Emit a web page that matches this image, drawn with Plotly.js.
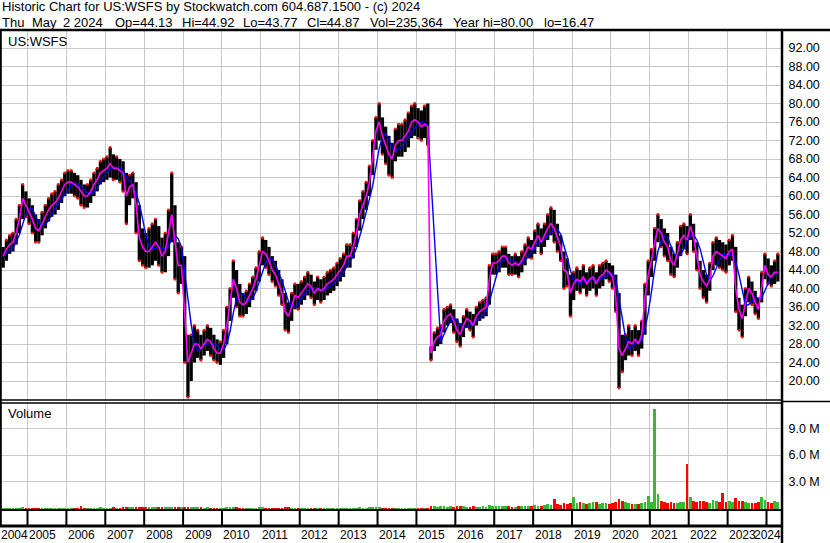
<!DOCTYPE html>
<html><head><meta charset="utf-8">
<script src="https://cdn.plot.ly/plotly-3.0.1.min.js"></script>
<style>html,body{margin:0;padding:0;background:#fff;overflow:hidden}#chart{width:830px;height:543px}</style>
</head><body><div id="chart"></div>
<script>
// Monthly bars, May 2004 .. Apr 2024
const firstYear = 2004, firstMonth = 5;
const closeP = [
 47,48.5,49.5,50,52,55,59.5,58,                                  // 2004 May-Dec
 56.5,55,53,52.5,54,55.5,57,58,58.5,59.5,61,62.5,                // 2005
 63,63,62.5,62,61,60,60,61,62.5,63.5,65,65.5,                    // 2006
 66,67,66,66,65.5,65,60,62,62.5,58,51,49,                        // 2007
 48,48,49,50,49,47,48,52,56,50,45,45,                            // 2008
 34,24,26,28,28,27,28,29,28.5,27,26,26,                          // 2009
 28,32,37,42,40,37,36.5,37,38.5,40,42,45,                        // 2010
 48,47.5,46,44,43,41,39,35,34,36,38.5,38,                        // 2011
 39,40,41,40.5,39,40,39.5,40,41,41.5,42,43,                      // 2012
 44,45,47,47,49,52,56,58,60,63,68,74,                            // 2013
 76,73,71,69,68,71,72,72,73,74,76,76.5,                          // 2014
 76,75,75.5,75,26,28.5,29.5,30,33,34,34.5,33,                    // 2015
 31,30,32,33.5,33,32,34,35,35.5,36,42,45.5,                      // 2016
 45.5,46,47,47,45.5,45,45.5,45,46,47.5,49,48.5,                  // 2017
 50,51.5,50,51.5,53,54,53,51,49,44,43.5,39,                      // 2018
 41,42,41.5,42.5,41,42,42.5,41,42.5,43,44,43.5,                  // 2019
 42.5,38,27,25.5,27,28.5,28,29,28,30,38,43,                      // 2020
 46,50,53,52,50,49,46,45,47.5,50.5,51.5,50.5,                    // 2021
 53.5,51,47,43,41.5,40.5,42,47,48,47.5,47,46.5,                  // 2022
 48,48.5,40,35.5,33.5,37,40,39,37,35.5,40.5,45,                  // 2023
 43,42.5,43.5,43.5                                               // 2024 Jan-Apr
];
const highP = [
 49,50.5,51.5,52,55,58,62.5,61,
 59.5,58,56,55,56.5,58,59.5,60.5,61,62.5,63.5,65,
 65.5,65.5,65,64.5,63.5,62.5,62.5,63.5,65,66,67.5,68,
 68.5,70.5,69,68.5,68,67.5,65,64.5,65,63,58,53,
 52,53,54,55,53.5,51,52,57,65,58,50,49,
 47,30,30,32,31,30,31,32,31.5,30,29,28.5,
 31,36,40,46,44,41,39,39.5,41,42.5,44.5,48,
 51,50.5,49,47,46,44,42,39,37,39,41,41,
 41.5,42.5,43.5,43,41.5,42.5,42,42.5,43.5,44,44.5,45.5,
 46.5,47.5,49.5,49.5,52,55,59,61,63,66.5,72,77,
 80,77,75,73,71.5,74.5,75.5,75.5,76.5,78,79.5,80,
 79,78.5,79.5,80,27.5,30.5,31.5,32,35.5,36,36.5,35.5,
 33.5,32.5,34,35.5,35,34.5,36,37,37.5,38,45,47.5,
 47.5,48,49,49,47.5,47,47.5,47,48,49.5,51,50.5,
 52.5,54,53,54,56,57.5,57,54,51.5,48,46.5,43,
 43.5,44.5,44,45,43.5,44.5,45,43.5,45,45.5,46,45.5,
 45,43,39,30,30,32,31,32,31,33,41,46,
 48.5,53,56,55,53,52,49,47.5,50,53.5,54,53.5,
 56,54,50,46,44,43,45.5,50,51,50.5,50,49.5,
 50.5,51.5,49,38,36.5,40,42.5,41.5,39.5,38,43.5,47.5,
 46.5,45,46,47.5
];
const lowP = [
 44.5,46,47.5,48,49.5,52,55,55.5,
 54,52,50,50,51.5,53,54.5,55.5,56,57,58.5,60,
 60.5,60.5,60,59.5,58,57.5,57.5,58.5,60,61,62.5,63,
 63.5,64,63.5,63.5,63,61,54,58,59.5,52,46,45,
 44.5,44.5,45,46,45,43.5,43.5,47,50,42,39,41,
 24,16.5,20,24,25,24.5,25.5,26.5,25.5,24.5,24,23.5,
 25,28,33,38,36,34,34,34.5,36,37.5,39.5,41.5,
 45,44.5,43,41.5,40.5,38.5,36.5,31,30.5,33,35.5,35.5,
 36.5,37.5,38.5,38,36.5,37.5,37,37.5,38.5,39,39.5,40.5,
 41.5,42.5,44.5,44.5,46.5,49,52.5,55,57,60,64.5,70,
 72,69,67,64.5,64,67.5,68.5,68.5,69.5,70.5,72.5,73,
 72.5,72,72.5,71,24.5,26.5,27.5,28,30.5,32,32.5,30.5,
 28.5,27.5,29.5,31.5,31,29.5,32,33,33.5,34,36.5,43,
 43,43.5,44.5,44.5,43,43,43,42.5,43.5,45,46.5,46.5,
 47.5,49,47.5,49,50.5,51.5,50,48,46,40,40.5,34,
 37.5,39.5,39,40,38.5,39.5,40,38.5,40,40.5,42,41.5,
 40,35,18.5,22,24.5,25.5,25.5,26.5,25.5,27,30,38.5,
 42.5,46,50,49,47,46,43,42.5,44.5,47,48.5,47.5,
 50.5,48,44,40,38,37,39.5,44,45,44.5,44,43.5,
 45,46,35,31,29.5,34,37,36.5,34.5,33.5,37,42,
 41,40.5,41,41.5
];
// daily volume level per month, millions of shares
const volM = [
 0.04,0.04,0.03,0.04,0.05,0.05,0.06,0.05,
 0.04,0.05,0.05,0.04,0.05,0.04,0.04,0.05,0.04,0.05,0.05,0.04,
 0.05,0.05,0.04,0.05,0.2,0.05,0.05,0.04,0.05,0.05,0.06,0.05,
 0.05,0.05,0.06,0.05,0.05,0.06,0.07,0.07,0.06,0.07,0.08,0.06,
 0.07,0.06,0.07,0.06,0.06,0.07,0.08,0.09,0.15,0.1,0.08,0.07,
 0.12,0.09,0.08,0.07,0.06,0.06,0.05,0.06,0.05,0.05,0.05,0.05,
 0.05,0.06,0.07,0.14,0.06,0.05,0.05,0.05,0.05,0.05,0.05,0.06,
 0.06,0.05,0.05,0.05,0.04,0.05,0.05,0.07,0.06,0.05,0.05,0.05,
 0.04,0.05,0.04,0.05,0.04,0.05,0.04,0.04,0.05,0.04,0.05,0.05,
 0.05,0.04,0.05,0.05,0.05,0.05,0.06,0.05,0.05,0.06,0.07,0.06,
 0.06,0.05,0.05,0.05,0.05,0.04,0.05,0.04,0.05,0.05,0.05,0.05,
 0.05,0.05,0.05,0.05,0.22,0.18,0.16,0.18,0.2,0.17,0.18,0.16,
 0.2,0.22,0.18,0.16,0.15,0.18,0.16,0.15,0.18,0.17,0.3,0.24,
 0.2,0.18,0.2,0.18,0.19,0.17,0.16,0.18,0.2,0.22,0.21,0.26,
 0.3,0.26,0.28,0.32,0.4,0.38,1.0,0.5,0.35,0.55,0.42,0.6,
 1.2,0.6,0.65,0.55,0.5,0.6,0.7,0.65,0.5,0.55,0.6,0.5,
 0.6,0.7,1.0,0.8,0.65,0.6,0.5,0.45,0.5,0.6,0.7,1.4,
 0.7,11.2,1.6,0.75,0.65,0.6,0.65,0.55,0.6,0.7,0.7,5.0,
 1.2,0.8,0.7,0.75,0.8,0.7,0.6,0.9,0.8,0.7,1.7,0.7,
 0.8,0.7,1.1,0.8,0.75,0.65,0.6,0.6,0.6,0.7,1.3,0.9,
 0.7,0.6,0.8,0.7
];
const yearTicks = [2005,2006,2007,2008,2009,2010,2011,2012,2013,2014,2015,2016,2017,2018,2019,2020,2021,2022,2023,2024];
const yearLabels = ['2004','2005','2006','2007','2008','2009','2010','2011','2012','2013','2014','2015','2016','2017','2018','2019','2020','2021','2022','2023','2024'];
const priceTicks = [20,24,28,32,36,40,44,48,52,56,60,64,68,72,76,80,84,88,92];
const volTicks = [3e6,6e6,9e6];
const volTickText = ['3.0 M','6.0 M','9.0 M'];
const headLine1 = 'Historic Chart for US:WSFS by Stockwatch.com 604.687.1500 - (c) 2024';
const headLine2 = [['Thu',2],['May',32],['2 2024',63],['Op=44.13',115],['Hi=44.92',182],['Lo=43.77',243],['Cl=44.87',307],['Vol=235,364',370],['Year hi=80.00',453],['lo=16.47',544]];
const MA_LONG = 4;

// ---- geometry ----
const W = 830, H = 543, PL = 0, PR = 782, PT = 30, PB = 526;
const px2x = p => (p - PL) / (PR - PL);
const py2y = p => (PB - p) / (PB - PT);
const FONT = 'Liberation Sans, Arial, sans-serif';

const n = closeP.length;
const xs = closeP.map((_, i) => firstYear + (firstMonth - 1 + i + 0.5) / 12);

// high-low bars
const bx = [], by = [];
for (let i = 0; i < n; i++) { bx.push(xs[i], xs[i], null); by.push(lowP[i], highP[i], null); }
// red tick dots
const rx = [], ry = [];
for (let i = 1; i < n; i++) { rx.push(xs[i]); ry.push(closeP[i] < closeP[i-1] ? lowP[i] : highP[i]); }
// long moving average
const maL = closeP.map((_, i) => {
  const a = Math.max(0, i - MA_LONG + 1); let s = 0;
  for (let j = a; j <= i; j++) s += closeP[j];
  return s / (i - a + 1);
});
const volColors = closeP.map((c, i) => (i > 0 && c < closeP[i-1]) ? '#ff0000' : '#33bb33');

// volume axis: 0 at y=508px, 3M per 26.5px; bars rise from the panel floor (y=510)
const volPerPx = 3e6 / 26.5;
const volFloor = -(510 - 508) * volPerPx;
const volTop = (508 - 403) * volPerPx;

const traces = [
  {type:'scatter', mode:'lines', x:bx, y:by, line:{color:'#000', width:3.3}, hoverinfo:'skip', xaxis:'x', yaxis:'y'},
  {type:'scatter', mode:'markers', x:rx, y:ry, marker:{color:'#ff0000', size:2.5, symbol:'square'}, hoverinfo:'skip', xaxis:'x', yaxis:'y'},
  {type:'scatter', mode:'lines', x:xs, y:maL, line:{color:'#0000ff', width:1.4}, xaxis:'x', yaxis:'y'},
  {type:'scatter', mode:'lines', x:xs, y:closeP, line:{color:'#ff00ff', width:1.6}, xaxis:'x', yaxis:'y'},
  {type:'bar', x:xs, base:volFloor, y:volM.map(v => v * 1e6 - volFloor), marker:{color:volColors, line:{width:0}}, width:0.07, xaxis:'x2', yaxis:'y2'}
];

const xRange = [2005 - 27.5/38.9, 2024 + 15.5/38.9];
const grid = '#c8c8c8';
const tickFont = {family:FONT, size:12.5, color:'#000'};

const shapes = [];
const hline = (y, x0, x1, w) => shapes.push({type:'line', xref:'paper', yref:'paper', x0:px2x(x0), x1:px2x(x1), y0:py2y(y), y1:py2y(y), line:{color:'#000', width:w}});
const vline = (x, y0, y1, w) => shapes.push({type:'line', xref:'paper', yref:'paper', x0:px2x(x), x1:px2x(x), y0:py2y(y0), y1:py2y(y1), line:{color:'#000', width:w}});
hline(30, 0, 830, 2.5);
hline(400, 0, 782, 1.5);
hline(403, 0, 782, 1.5);
hline(401.5, 782, 830, 1.5);
hline(510, 0, 782, 2);
hline(526, 0, 782, 3);
vline(0.8, 30, 526, 2);
vline(782, 30, 543, 2.5);
yearTicks.forEach(t => shapes.push({type:'line', xref:'x', yref:'paper', x0:t, x1:t, y0:py2y(510), y1:py2y(526), line:{color:'#000', width:2}}));

const annotations = [];
const txt = (text, x, y, opts) => annotations.push(Object.assign({text, xref:'paper', yref:'paper', x:px2x(x), y:py2y(y), xanchor:'left', yanchor:'middle', showarrow:false, font:{family:FONT, size:13, color:'#000'}, borderpad:0}, opts || {}));
txt(headLine1, 1, 7);
headLine2.forEach(([t, x]) => txt(t, x - 1, 22));
txt('US:WSFS', 7, 42);
txt('Volume', 7, 413);
// year labels below the chart
const yf = {family:FONT, size:12, color:'#000'};
txt(yearLabels[0], -0.5, 535, {font:yf});
yearTicks.slice(0, -1).forEach((t, k) => annotations.push({text:yearLabels[k+1], xref:'x', yref:'paper', x:t, y:py2y(535), xanchor:'left', yanchor:'middle', xshift:0.5, showarrow:false, font:yf, borderpad:0}));
txt(yearLabels[yearLabels.length-1], 782, 535, {xanchor:'right', font:yf});

const layout = {
  width:W, height:H, margin:{l:PL, r:W-PR, t:PT, b:H-PB, pad:0},
  paper_bgcolor:'#fff', plot_bgcolor:'#fff', showlegend:false,
  xaxis:{domain:[0,1], range:xRange, tickvals:yearTicks, showticklabels:false, ticks:'', showgrid:true, gridcolor:grid, gridwidth:1, zeroline:false, showline:false, anchor:'y', fixedrange:true},
  yaxis:{domain:[py2y(401), 1], range:[20 - (401-381)/4.625, 20 + (381-30)/4.625], side:'right', tickvals:priceTicks, tickformat:'.2f', ticks:'outside', ticklen:3, tickcolor:'rgba(0,0,0,0)', tickfont:tickFont, showgrid:true, gridcolor:grid, gridwidth:1, zeroline:false, showline:false, anchor:'x'},
  xaxis2:{domain:[0,1], range:xRange, tickvals:yearTicks, showticklabels:false, ticks:'', showgrid:true, gridcolor:grid, gridwidth:1, zeroline:false, showline:false, anchor:'y2'},
  yaxis2:{domain:[py2y(510), py2y(403)], range:[volFloor, volTop], side:'right', tickvals:volTicks, ticktext:volTickText, ticks:'outside', ticklen:3, tickcolor:'rgba(0,0,0,0)', tickfont:tickFont, showgrid:true, gridcolor:grid, gridwidth:1, zeroline:false, showline:false, anchor:'x2'},
  shapes, annotations, bargap:0
};
Plotly.newPlot('chart', traces, layout, {staticPlot:true, displayModeBar:false});
</script></body></html>
